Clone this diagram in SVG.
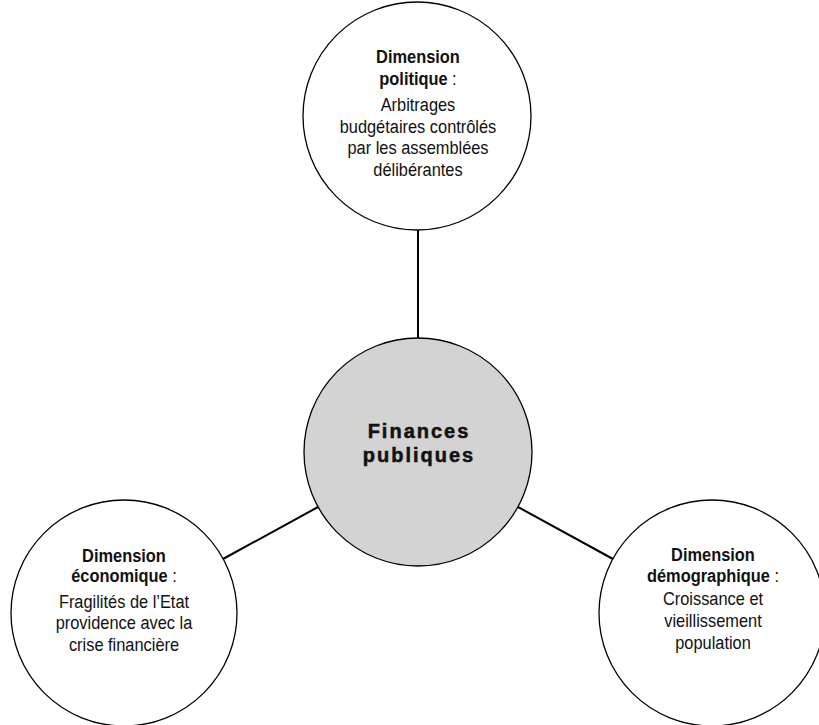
<svg xmlns="http://www.w3.org/2000/svg" width="819" height="725" viewBox="0 0 819 725">
<style>
.n{fill:#ffffff;stroke:#000;stroke-width:1.3}
.c{fill:#d3d3d3;stroke:#000;stroke-width:1.3}
.t{font-family:"Liberation Sans",Arial,sans-serif;font-size:16.4px;fill:#111;text-anchor:middle}
.b{font-weight:bold}
.h{font-family:"Liberation Sans",Arial,sans-serif;font-size:20px;font-weight:bold;letter-spacing:2px;fill:#111;stroke:#111;stroke-width:0.5;text-anchor:middle}
.e{stroke:#000;stroke-width:2;fill:none}
</style>
<rect width="819" height="725" fill="#fff"/>
<g id="connectors">
<line class="e" x1="418" y1="230" x2="418" y2="338"/>
<line class="e" x1="223" y1="559" x2="318" y2="507"/>
<line class="e" x1="613" y1="559" x2="518" y2="507"/>
</g>
<g id="politique">
<circle class="n" cx="417" cy="116" r="114"/>
<text class="t b" x="418" y="63" transform="matrix(1,0,0,1.1,0,-6.3)">Dimension</text>
<text class="t" x="418" y="85" transform="matrix(1,0,0,1.1,0,-8.5)"><tspan class="b">politique</tspan> :</text>
<text class="t" x="418" y="111" transform="matrix(1,0,0,1.1,0,-11.1)">Arbitrages</text>
<text class="t" x="418" y="133" transform="matrix(1,0,0,1.1,0,-13.3)">budgétaires contrôlés</text>
<text class="t" x="418" y="154" transform="matrix(1,0,0,1.1,0,-15.4)">par les assemblées</text>
<text class="t" x="418" y="176" transform="matrix(1,0,0,1.1,0,-17.6)">délibérantes</text>
</g>
<g id="finances">
<circle class="c" cx="418" cy="452" r="114"/>
<text class="h" x="419" y="438">Finances</text>
<text class="h" x="419" y="462">publiques</text>
</g>
<g id="economique">
<circle class="n" cx="124" cy="613" r="113"/>
<text class="t b" x="124" y="562" transform="matrix(1,0,0,1.1,0,-56.2)">Dimension</text>
<text class="t" x="124" y="582" transform="matrix(1,0,0,1.1,0,-58.2)"><tspan class="b">économique</tspan> :</text>
<text class="t" x="124" y="608" transform="matrix(1,0,0,1.1,0,-60.8)">Fragilités de l’Etat</text>
<text class="t" x="124" y="629" transform="matrix(1,0,0,1.1,0,-62.9)">providence avec la</text>
<text class="t" x="124" y="651" transform="matrix(1,0,0,1.1,0,-65.1)">crise financière</text>
</g>
<g id="demographique">
<circle class="n" cx="712" cy="613" r="113"/>
<text class="t b" x="713" y="561" transform="matrix(1,0,0,1.1,0,-56.1)">Dimension</text>
<text class="t" x="713" y="582" transform="matrix(1,0,0,1.1,0,-58.2)"><tspan class="b">démographique</tspan> :</text>
<text class="t" x="713" y="605" transform="matrix(1,0,0,1.1,0,-60.5)">Croissance et</text>
<text class="t" x="713" y="627.5" transform="matrix(1,0,0,1.1,0,-62.75)">vieillissement</text>
<text class="t" x="713" y="649" transform="matrix(1,0,0,1.1,0,-64.9)">population</text>
</g>
</svg>
